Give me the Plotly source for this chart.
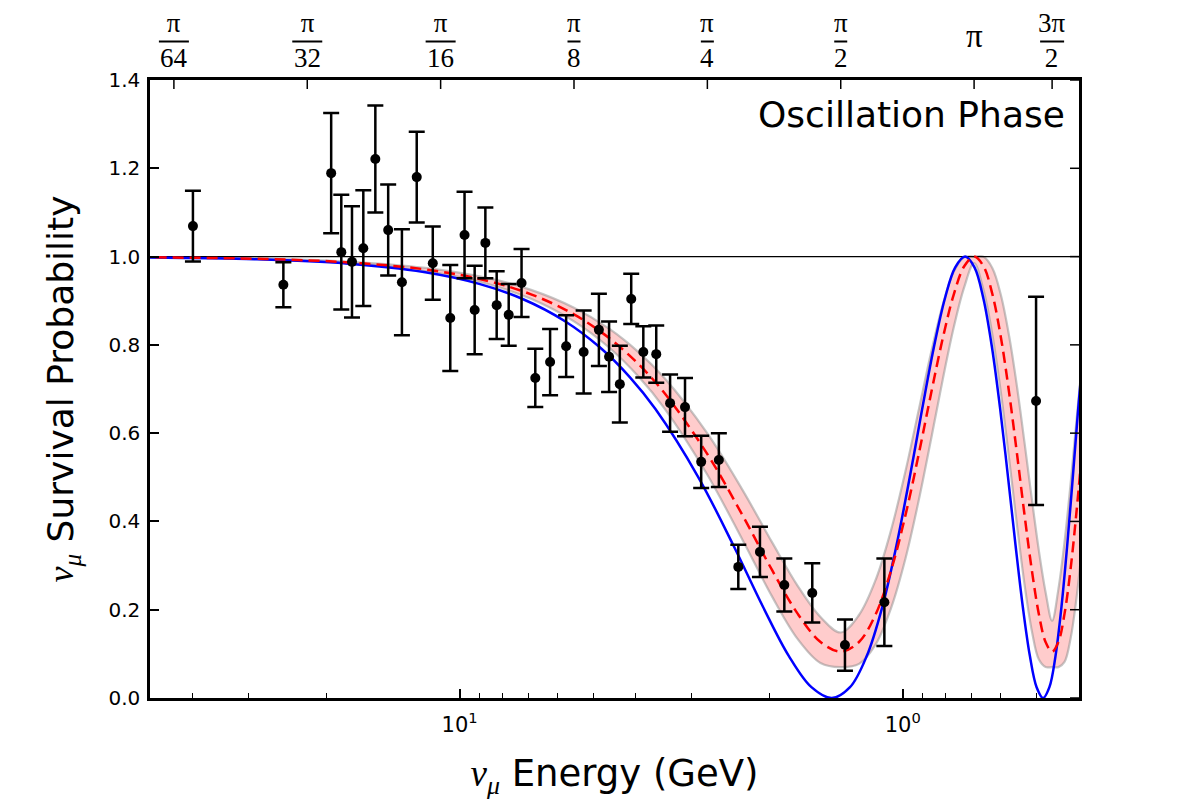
import math
import plotly.graph_objects as go

# ---------------- data ----------------
# measured points (energy in GeV, survival probability, symmetric error)
data_energy = [40, 25, 19.5, 18.5, 17.5, 16.5, 15.5, 14.5, 13.5, 12.5, 11.5, 10.5,
               9.75, 9.25, 8.75, 8.25, 7.75, 7.25, 6.75, 6.25, 5.75, 5.25,
               4.85, 4.6, 4.35, 4.1, 3.85, 3.6, 3.35, 3.1, 2.85, 2.6, 2.35, 2.1,
               1.85, 1.6, 1.35, 1.1, 0.5]
data_prob = [1.069, 0.936, 1.189, 1.010, 0.988, 1.019, 1.221, 1.060, 0.942, 1.180, 0.985, 0.861,
             1.049, 0.879, 1.031, 0.890, 0.868, 0.940, 0.725, 0.761, 0.797, 0.784,
             0.834, 0.773, 0.711, 0.904, 0.784, 0.779, 0.668, 0.659, 0.535, 0.539, 0.297, 0.331,
             0.256, 0.238, 0.120, 0.217, 0.673]
data_err = [0.080, 0.051, 0.136, 0.130, 0.126, 0.131, 0.121, 0.103, 0.120, 0.103, 0.083, 0.120,
            0.098, 0.100, 0.080, 0.077, 0.070, 0.077, 0.066, 0.075, 0.070, 0.094,
            0.082, 0.080, 0.087, 0.057, 0.058, 0.065, 0.065, 0.066, 0.059, 0.061, 0.050, 0.057,
            0.060, 0.067, 0.058, 0.099, 0.236]

# blue solid curve
blue_energy = [51.64, 28.92, 18.08, 12.05, 9.038, 7.230, 5.784, 4.820, 4.131, 3.615,
               2.892, 2.410, 2.066, 1.808, 1.607, 1.446, 1.315, 1.205, 1.112, 1.033,
               0.9640, 0.9038, 0.8506, 0.8033, 0.7611, 0.7230, 0.6886, 0.6573, 0.6287, 0.6025,
               0.5784, 0.5562, 0.5356, 0.5164, 0.4986, 0.4820, 0.4665, 0.4519, 0.4382, 0.4253,
               0.4131, 0.4017, 0.3908]
blue_prob = [0.9981, 0.9938, 0.9843, 0.9649, 0.9382, 0.9045, 0.8536, 0.7939, 0.7270, 0.6545,
             0.5000, 0.3455, 0.2061, 0.0955, 0.0245, 0.0000, 0.0245, 0.0955, 0.2061, 0.3455,
             0.5000, 0.6545, 0.7939, 0.9045, 0.9755, 1.0000, 0.9755, 0.9045, 0.7939, 0.6545,
             0.5000, 0.3455, 0.2061, 0.0955, 0.0245, 0.0000, 0.0245, 0.0955, 0.2061, 0.3455,
             0.5000, 0.6545, 0.7939]

# red dashed best fit and its shaded band
fit_energy = [53.08, 27.60, 17.25, 11.50, 8.625, 6.900, 5.520, 4.600, 3.943, 3.450,
              2.760, 2.300, 1.971, 1.725, 1.533, 1.380, 1.255, 1.150, 1.062, 0.9857,
              0.9200, 0.8625, 0.8118, 0.7667, 0.7263, 0.6900, 0.6571, 0.6273, 0.6000, 0.5750,
              0.5520, 0.5308, 0.5111, 0.4929, 0.4759, 0.4600, 0.4452, 0.4313, 0.4182, 0.4059,
              0.3943]
fit_prob = [0.9985, 0.9945, 0.9859, 0.9686, 0.9446, 0.9145, 0.8689, 0.8155, 0.7557, 0.6908,
            0.5525, 0.4142, 0.2895, 0.1905, 0.1269, 0.1050, 0.1269, 0.1905, 0.2895, 0.4142,
            0.5525, 0.6908, 0.8155, 0.9145, 0.9781, 1.0000, 0.9781, 0.9145, 0.8155, 0.6908,
            0.5525, 0.4142, 0.2895, 0.1905, 0.1269, 0.1050, 0.1269, 0.1905, 0.2895, 0.4142,
            0.5525]
band_high = [0.9987, 0.9952, 0.9876, 0.9723, 0.9512, 0.9246, 0.8841, 0.8366, 0.7831, 0.7249,
             0.5993, 0.4715, 0.3525, 0.2536, 0.1834, 0.1484, 0.1880, 0.2684, 0.3808, 0.5137,
             0.6526, 0.7831, 0.8914, 0.9659, 0.9988, 1.0000, 0.9995, 0.9738, 0.9119, 0.8194,
             0.7046, 0.5779, 0.4506, 0.3345, 0.2397, 0.1750, 0.2465, 0.3525, 0.4819, 0.6209,
             0.7545]
band_low = [0.9983, 0.9938, 0.9842, 0.9647, 0.9379, 0.9042, 0.8533, 0.7940, 0.7277, 0.6563,
            0.5058, 0.3586, 0.2297, 0.1333, 0.0794, 0.0700, 0.0772, 0.1220, 0.2042, 0.3161,
            0.4479, 0.5874, 0.7224, 0.8403, 0.9307, 0.9854, 0.9245, 0.8223, 0.6898, 0.5408,
            0.3913, 0.2570, 0.1521, 0.0876, 0.0700, 0.0700, 0.0700, 0.0819, 0.1333, 0.2210,
            0.3370]

# axes
x_range_energy = [50.0, 0.4]          # reversed log axis
y_range = [0.0, 1.4]
y_ticks = [0.0, 0.2, 0.4, 0.6, 0.8, 1.0, 1.2, 1.4]
unity_level = 1.0
major_ticks = [10, 1]
major_tick_text = ["10<sup>1</sup>", "10<sup>0</sup>"]
minor_ticks = [40, 30, 20, 9, 8, 7, 6, 5, 4, 3, 2, 0.9, 0.8, 0.7, 0.6, 0.5]

# top (oscillation phase) axis
phase_tick_energy = [44.16, 22.08, 11.04, 5.52, 2.76, 1.38, 0.69, 0.46]
phase_tick_num = ["π", "π", "π", "π", "π", "π", "π", "3π"]
phase_tick_den = ["64", "32", "16", "8", "4", "2", "", "2"]

# ---------------- figure ----------------
log_lo = math.log10(x_range_energy[0])
log_hi = math.log10(x_range_energy[1])

fig = go.Figure()

band_edge = dict(color="rgba(140,140,140,0.5)", width=2.2, shape="spline")
fig.add_trace(go.Scatter(x=fit_energy, y=band_low, mode="lines", line=band_edge,
                         hoverinfo="skip"))
fig.add_trace(go.Scatter(x=fit_energy, y=band_high, mode="lines", line=band_edge,
                         fill="tonexty", fillcolor="rgba(255,0,0,0.2)", hoverinfo="skip"))
# horizontal reference line at P = 1
fig.add_trace(go.Scatter(x=x_range_energy, y=[unity_level, unity_level], mode="lines",
                         line=dict(color="black", width=1.2), hoverinfo="skip"))
fig.add_trace(go.Scatter(x=blue_energy, y=blue_prob, mode="lines",
                         line=dict(color="#0000ff", width=2.5, shape="spline")))
fig.add_trace(go.Scatter(x=fit_energy, y=fit_prob, mode="lines",
                         line=dict(color="#ff0000", width=2.5, dash="11px,6px", shape="spline")))
fig.add_trace(go.Scatter(x=data_energy, y=data_prob, mode="markers",
                         marker=dict(color="black", size=10),
                         error_y=dict(type="data", array=data_err, color="black",
                                      thickness=2.5, width=8)))

tick_font = dict(family="DejaVu Sans", size=20, color="black")
serif = "Liberation Serif"
nu_mu = ('<span style="font-family:%s"><i>ν</i><sub><i>μ</i></sub></span>' % serif)

fig.update_layout(
    width=1200, height=800,
    margin=dict(l=150, r=121, t=80, b=102),
    paper_bgcolor="white", plot_bgcolor="white",
    showlegend=False,
    font=dict(family="DejaVu Sans", color="black"),
    xaxis=dict(
        type="log", range=[log_lo, log_hi],
        tickmode="array", tickvals=major_ticks, ticktext=major_tick_text,
        ticks="inside", ticklen=9, tickwidth=1.5, tickcolor="black",
        minor=dict(tickmode="array", tickvals=minor_ticks, ticks="inside",
                   ticklen=5, tickwidth=1.2, tickcolor="black", showgrid=False),
        showline=True, linecolor="black", linewidth=2.5, mirror=True,
        showgrid=False, zeroline=False,
        tickfont=dict(family="DejaVu Sans", size=21, color="black"),
        ticklabelstandoff=6,
        title=dict(text=nu_mu + " Energy (GeV)",
                   font=dict(family="DejaVu Sans", size=37, color="black"),
                   standoff=26),
    ),
    yaxis=dict(
        range=y_range, tickmode="array", tickvals=y_ticks, tickformat=".1f",
        ticks="inside", ticklen=9, tickwidth=1.5, tickcolor="black",
        showline=True, linecolor="black", linewidth=2.5, mirror=True,
        showgrid=False, zeroline=False,
        tickfont=tick_font, ticklabelstandoff=3,
        title=dict(text=nu_mu + " Survival Probability",
                   font=dict(family="DejaVu Sans", size=36, color="black"),
                   standoff=24),
    ),
)

# right-hand frame ticks (mirror of the y ticks)
for yv in y_ticks:
    fig.add_shape(type="line", xref="paper", yref="y", xsizemode="pixel", xanchor=1,
                  x0=0, x1=-9, y0=yv, y1=yv, line=dict(color="black", width=1.5))

# "Oscillation Phase" label inside the frame
fig.add_annotation(text="Oscillation Phase", xref="paper", yref="paper", x=1, y=1,
                   xanchor="right", yanchor="top", xshift=-12, yshift=-12,
                   showarrow=False, font=dict(family="DejaVu Sans", size=36, color="black"))


def paper_x(e):
    return (math.log10(e) - log_lo) / (log_hi - log_lo)


# top phase axis: inside ticks plus fraction labels
for e, num, den in zip(phase_tick_energy, phase_tick_num, phase_tick_den):
    px = paper_x(e)
    fig.add_shape(type="line", xref="paper", yref="paper", x0=px, x1=px,
                  ysizemode="pixel", yanchor=1, y0=0, y1=-9,
                  line=dict(color="black", width=1.5))
    if den:
        fig.add_annotation(text=num + "<br>" + den, xref="paper", yref="paper", x=px, y=1,
                           xanchor="center", yanchor="middle", yshift=40, align="center",
                           showarrow=False, font=dict(family=serif, size=27, color="black"))
        w = 24 if len(num) > 1 else (30 if len(den) > 1 else 13)
        fig.add_shape(type="line", xref="paper", yref="paper",
                      xsizemode="pixel", xanchor=px, x0=-w / 2, x1=w / 2,
                      ysizemode="pixel", yanchor=1, y0=38.5, y1=38.5,
                      line=dict(color="black", width=2))
    else:
        fig.add_annotation(text=num, xref="paper", yref="paper", x=px, y=1,
                           xanchor="center", yanchor="middle", yshift=44,
                           showarrow=False, font=dict(family=serif, size=33, color="black"))

# remove the default page margin so the 1200x800 figure fills the window exactly
fig.write_html("out.html", config={"displayModeBar": False},
               post_script="document.body.style.margin='0';")
